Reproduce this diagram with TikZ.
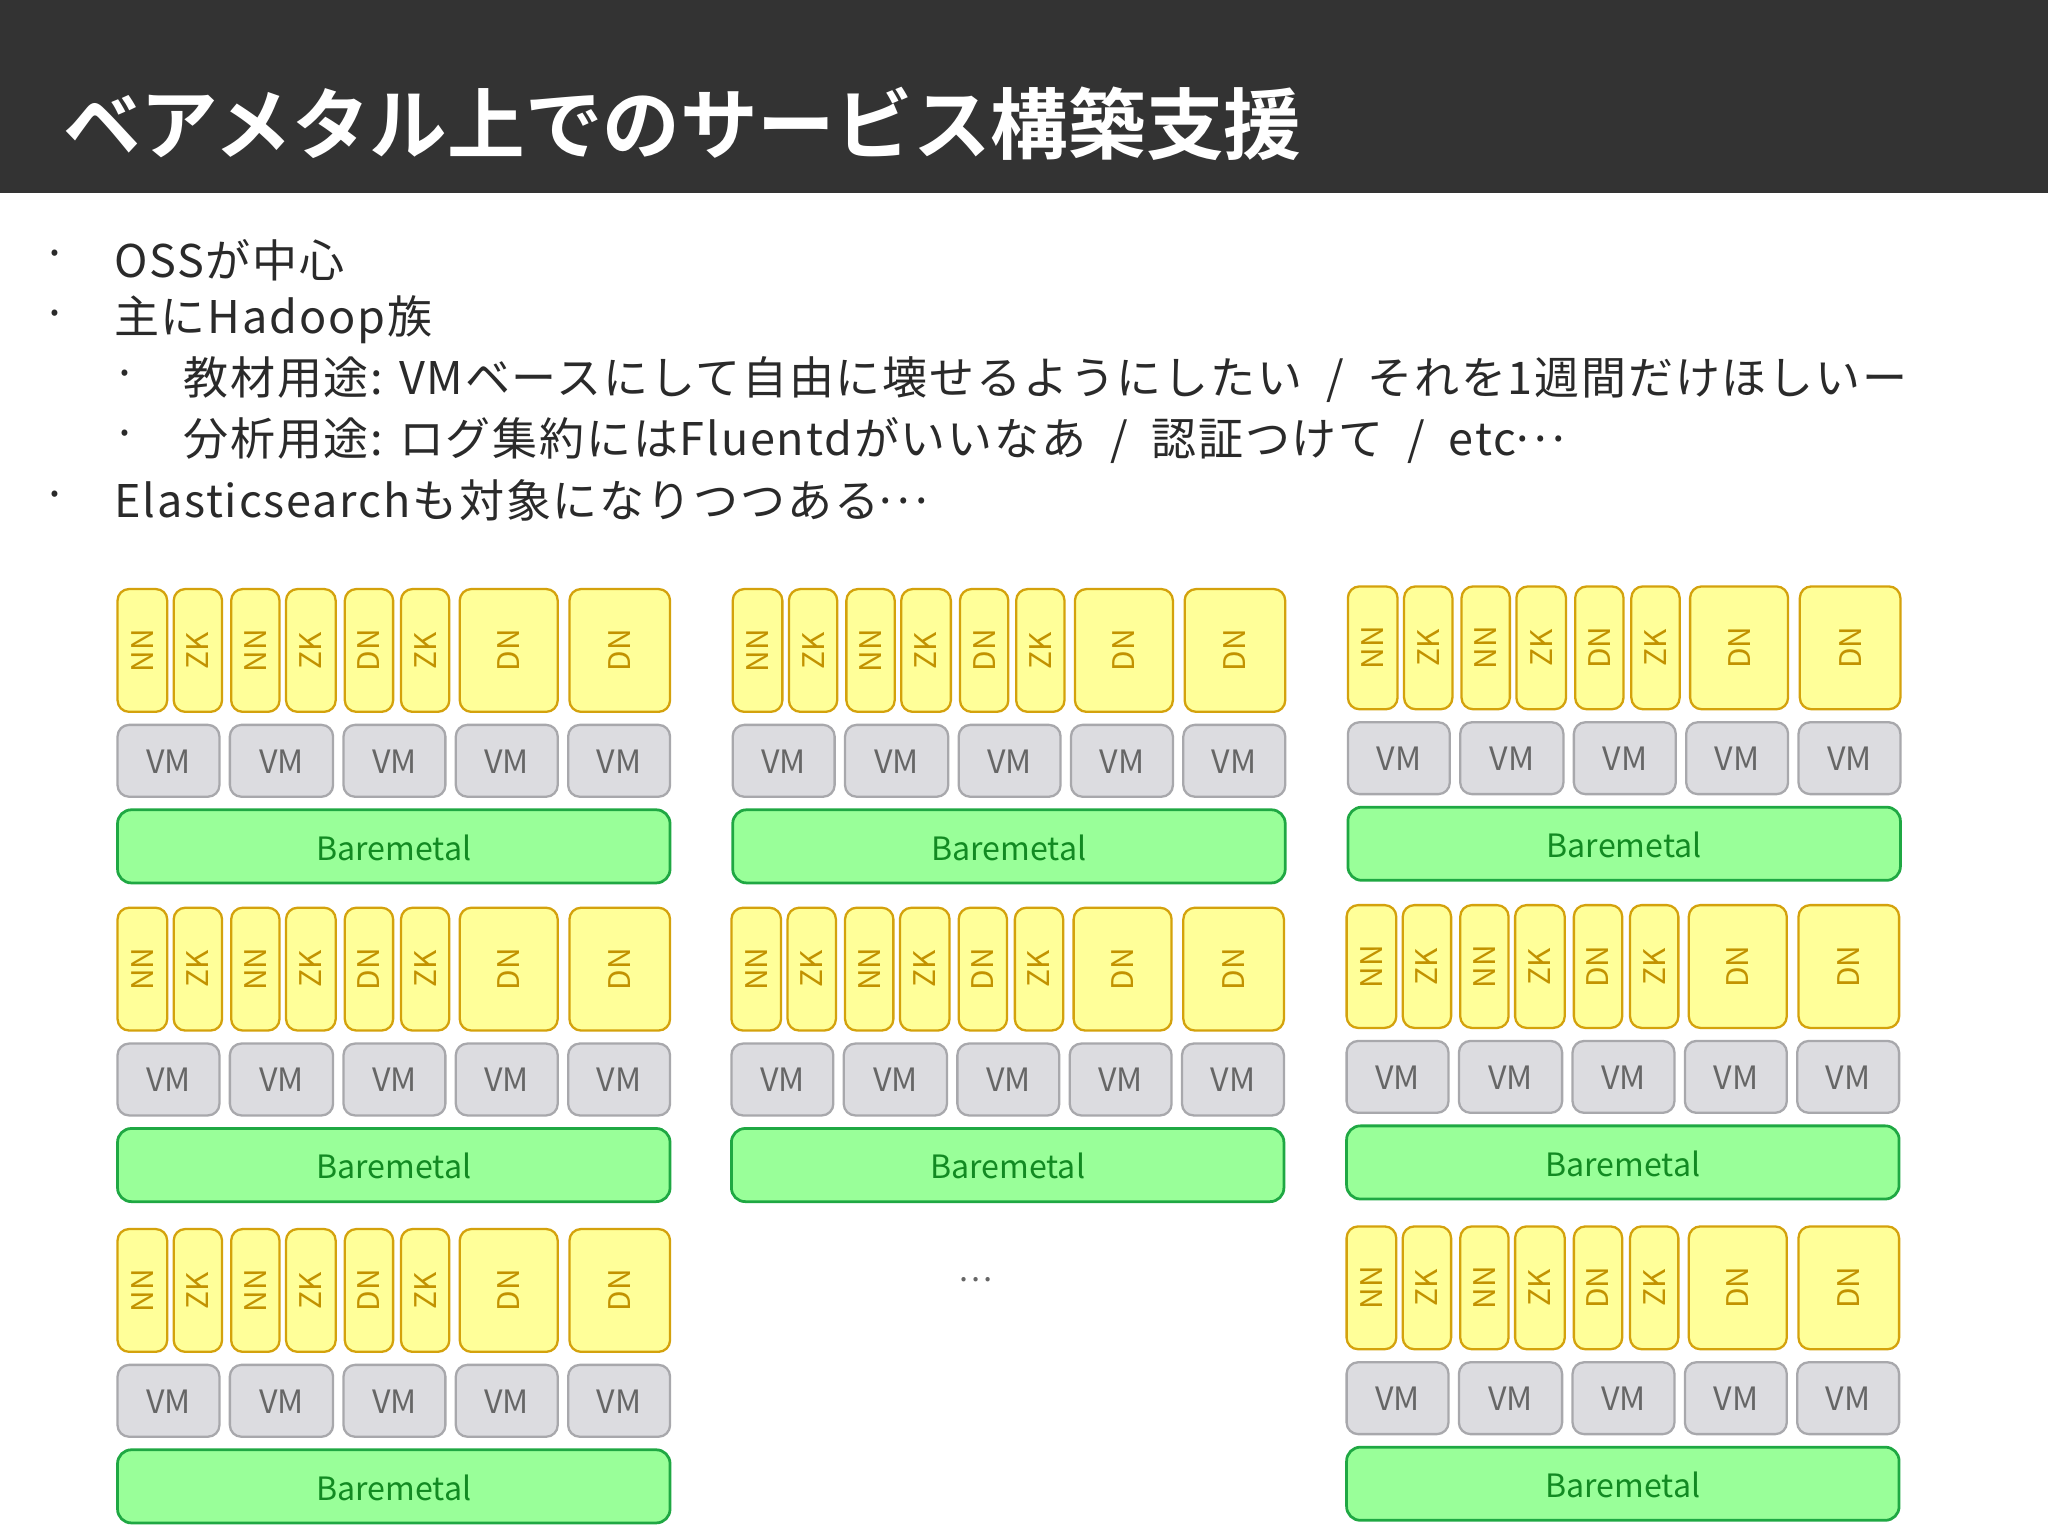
\documentclass[tikz,border=0pt]{standalone}
\usepackage{fontspec}
\setmainfont{Noto Sans CJK JP}
\newfontfamily\jpb{Noto Sans CJK JP Bold}
\newfontfamily\jpw[LetterSpace=4]{Noto Sans CJK JP}
\definecolor{ybg}{HTML}{FFFF99}\definecolor{ybd}{HTML}{D4A20C}\definecolor{ytx}{HTML}{C29200}
\definecolor{gbg}{HTML}{DCDCE0}\definecolor{gbd}{HTML}{A8A8AC}\definecolor{gtx}{HTML}{666666}
\definecolor{mbg}{HTML}{99FF99}\definecolor{mbd}{HTML}{1FA843}\definecolor{mtx}{HTML}{128A22}
\definecolor{bar}{HTML}{333333}\definecolor{body}{HTML}{2A2A2A}
\newcommand\mdots{\raisebox{0.3em}{.\kern0.12em.\kern0.12em.}}
\tikzset{
 ybox/.style={draw=ybd,fill=ybg,line width=0.5pt,rounded corners=2.5pt},
 vbox/.style={draw=gbd,fill=gbg,line width=0.5pt,rounded corners=2.5pt},
 mbox/.style={draw=mbd,fill=mbg,line width=0.6pt,rounded corners=3pt},
 ylab/.style={text=ytx,font=\fontsize{6.5}{7}\selectfont,rotate=90},
 vlab/.style={text=gtx,font=\fontsize{7}{8}\selectfont},
 mlab/.style={text=mtx,font=\fontsize{7}{8}\selectfont},
 btxt/.style={anchor=west,text=body,font=\jpw\fontsize{9.8}{10}\selectfont},
}
\newcommand\yb[5]{%
 \path[ybox] (\bx+#2,\by) rectangle (\bx+#3,\by+94);
 \node[ylab] (#1) at (\bx+#2/2+#3/2,\by+47) {#4};}
\newcommand\vb[3]{\path[vbox] (\bx+#2,\by+104) rectangle (\bx+#3,\by+159);
 \node[vlab] (#1) at (\bx+#2/2+#3/2,\by+132) {VM};}
\newcommand\blk[3]{%
 \def\bx{#1}\def\by{#2}%
 \yb{#3a}{0}{38}{NN}{}\yb{#3b}{43}{80}{ZK}{}\yb{#3c}{87}{124}{NN}{}\yb{#3d}{129}{167}{ZK}{}%
 \yb{#3e}{174}{211}{DN}{}\yb{#3f}{217}{254}{ZK}{}\yb{#3g}{262}{337}{DN}{}\yb{#3h}{346}{423}{DN}{}%
 \vb{#3v1}{0}{78}\vb{#3v2}{86}{165}\vb{#3v3}{173}{251}\vb{#3v4}{259}{337}\vb{#3v5}{345}{423}%
 \path[mbox] (\bx,\by+169) rectangle (\bx+423,\by+225);
 \node[mlab] (#3m) at (\bx+211.5,\by+198) {Baremetal};}
\begin{document}
\begin{tikzpicture}[x=0.01cm,y=-0.01cm]
\useasboundingbox (0,0) rectangle (1568,1176);
\fill[white] (0,0) rectangle (1568,1176);
\fill[bar] (0,0) rectangle (1568,148);
\node[anchor=west,text=white,font=\jpb\fontsize{16.9}{18}\selectfont] (title) at (36,95) {ベアメタル上でのサービス構築支援};
\node[btxt] (d1) at (20,199) {·};\node[btxt] (t1) at (75,199) {OSSが中心};
\node[btxt] (d2) at (20,245) {·};\node[btxt] (t2) at (75,245) {主にHadoop族};
\node[btxt] (d3) at (74,291) {·};\node[btxt] (t3) at (128,291) {教材用途: VMベースにして自由に壊せるようにしたい ~/~ それを1週間だけほしいー};
\node[btxt] (d4) at (74,337) {·};\node[btxt] (t4) at (128,337) {分析用途: ログ集約にはFluentdがいいなあ ~/~ 認証つけて ~/~ etc\mdots};
\node[btxt] (d5) at (20,383) {·};\node[btxt] (t5) at (75,383) {Elasticsearchも対象になりつつある\mdots};
\blk{90}{451}{A}\blk{561}{451}{B}\blk{1032}{449}{C}
\blk{90}{695}{D}\blk{560}{695}{E}\blk{1031}{693}{F}
\blk{90}{941}{G}\blk{1031}{939}{H}
\node[text=gtx,font=\fontsize{7}{8}\selectfont] (dots) at (747,980) {…};
\end{tikzpicture}
\end{document}
